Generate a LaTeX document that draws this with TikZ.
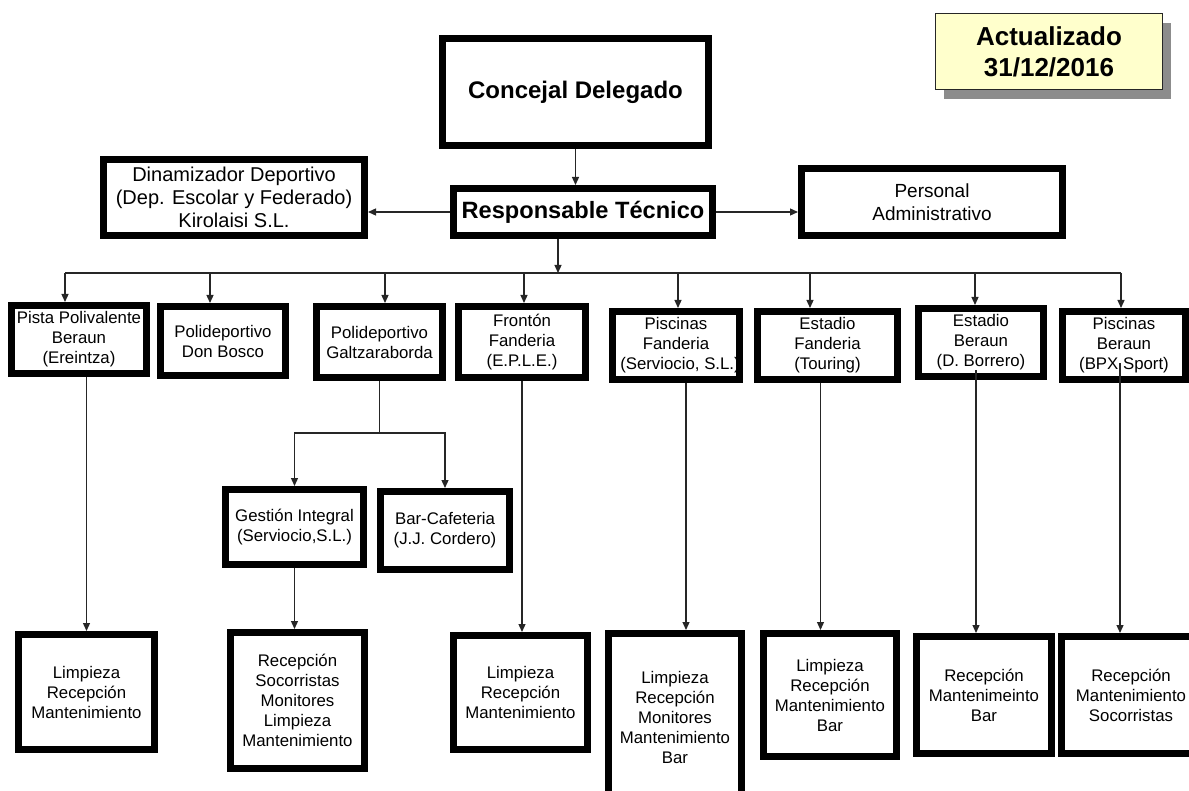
\documentclass[tikz,border=0pt]{standalone}
\usepackage{fontspec}
\setmainfont{Liberation Sans}
\usetikzlibrary{arrows.meta,shadows,calc}
\definecolor{yellowbg}{RGB}{255,255,204}
\begin{document}
\begin{tikzpicture}[x=1pt,y=-1pt,
  box/.style={draw, line width=7pt, align=center, inner sep=0pt, font=\fontsize{16.8}{20}\selectfont},
  sz/.style 2 args={minimum width=#1pt, minimum height=#2pt},
  arr/.style={draw=black!85, line width=1.3pt, -{Triangle[length=8pt,width=7pt]}},
  ln/.style={draw=black!85, line width=1.3pt},
  big/.style={font=\bfseries\fontsize{24}{28}\selectfont}]
\useasboundingbox (0,0) rectangle (1189,791);

% top
\node[box, big, sz={266}{107}] (conc) at (575.5,92) {Concejal Delegado};
\node[box, big, sz={259}{47}, font=\bfseries\fontsize{23.6}{28}\selectfont] (resp) at (583,212) {Responsable Técnico};
\node[box, sz={261}{76}, font=\fontsize{20}{23}\selectfont] (din) at (234,197.5) {Dinamizador Deportivo\\(Dep. Escolar y Federado)\\Kirolaisi S.L.};
\node[box, sz={261}{67}, font=\fontsize{19}{23}\selectfont] (pers) at (932,202) {Personal\\Administrativo};
\node[draw=black!85, line width=1.2pt, fill=yellowbg, minimum width=227pt, minimum height=76pt,
  font=\bfseries\fontsize{26}{31}\selectfont, align=center,
  drop shadow={shadow xshift=8pt, shadow yshift=-10pt, fill=black!45, opacity=1}] (upd) at (1049,51.5) {Actualizado\\31/12/2016};

% row 2
\node[box, sz={135}{68}] (pista) at (79,339.5) {Pista Polivalente\\Beraun\\(Ereintza)};
\node[box, sz={125}{69}] (dbos) at (223,341) {Polideportivo\\Don Bosco};
\node[box, sz={126}{71}] (galtz) at (379.5,342) {Polideportivo\\Galtzaraborda};
\node[box, sz={127}{71}] (fron) at (522,342) {Frontón\\Fanderia\\(E.P.L.E.)};
\node[box, sz={123}{68}] (pf) at (676,345.5) {Piscinas\\Fanderia\\\hspace*{8pt}(Serviocio, S.L.)};
\node[box, sz={140}{68}] (ef) at (827.5,345.5) {Estadio\\Fanderia\\(Touring)};
\node[box, sz={125}{68}] (eb) at (981,342.5) {Estadio\\Beraun\\(D. Borrero)};
\node[box, sz={123}{68}] (pb) at (1124,345.5) {Piscinas\\Beraun\\(BPX Sport)};

% row 3
\node[box, sz={138}{75}] (gest) at (294.5,527) {Gestión Integral\\(Serviocio,S.L.)};
\node[box, sz={129}{78}] (bar) at (445,530.5) {Bar-Cafeteria\\(J.J. Cordero)};

% row 4
\node[box, sz={136}{115}] (L1) at (86.5,692) {Limpieza\\Recepción\\Mantenimiento};
\node[box, sz={134}{136}] (L2) at (297.5,700.5) {Recepción\\Socorristas\\Monitores\\Limpieza\\Mantenimiento};
\node[box, sz={134}{114}] (L3) at (520.5,692.5) {Limpieza\\Recepción\\Mantenimiento};
\node[box, sz={133}{167}] (L4) at (675,717) {Limpieza\\Recepción\\Monitores\\Mantenimiento\\Bar};
\node[box, sz={133}{123}] (L5) at (830,695) {Limpieza\\Recepción\\Mantenimiento\\Bar};
\node[box, sz={135}{117}] (L6) at (984,695) {Recepción\\Mantenimeinto\\Bar};
\node[box, sz={139}{117}] (L7) at (1131,695) {Recepción\\Mantenimiento\\Socorristas};

% connectors top
\draw[arr] (conc.south) -- (conc.south |- resp.north);
\draw[arr] (resp.west) -- (resp.west -| din.east);
\draw[arr] (resp.east) -- (resp.east -| pers.west);

% bus
\coordinate (bR) at (558,273);
\coordinate (b1) at (65,273);
\coordinate (b2) at (210,273);
\coordinate (b3) at (385,273);
\coordinate (b4) at (524,273);
\coordinate (b5) at (678,273);
\coordinate (b6) at (810,273);
\coordinate (b7) at (975,273);
\coordinate (b8) at (1121,273);
\draw[arr] (bR |- resp.south) -- (bR);
\draw[ln] (b1) -- (b8);
\draw[arr] (b1) -- (b1 |- pista.north);
\draw[arr] (b2) -- (b2 |- dbos.north);
\draw[arr] (b3) -- (b3 |- galtz.north);
\draw[arr] (b4) -- (b4 |- fron.north);
\draw[arr] (b5) -- (b5 |- pf.north);
\draw[arr] (b6) -- (b6 |- ef.north);
\draw[arr] (b7) -- (b7 |- eb.north);
\draw[arr] (b8) -- (b8 |- pb.north);

% Galtzaraborda split
\coordinate (sp) at (380,433);
\draw[ln] (galtz.south) -- (galtz.south |- sp);
\draw[arr] (sp) -| (gest.north);
\draw[arr] (sp) -| (bar.north);

% row 2 / 3 to row 4
\draw[arr] (L1.north |- pista.south) -- (L1.north);
\draw[arr] (gest.south) -- (gest.south |- L2.north);
\draw[arr] (fron.south) -- (fron.south |- L3.north);
\draw[arr] ([xshift=10pt]pf.south) -- ([xshift=10pt]pf.south |- L4.north);
\draw[arr] ([xshift=-7pt]ef.south) -- ([xshift=-7pt]ef.south |- L5.north);
\draw[arr] ([xshift=-5pt,yshift=10pt]eb.south) -- ([xshift=-5pt]eb.south |- L6.north);
\draw[arr] ([xshift=-4pt,yshift=20pt]pb.south) -- ([xshift=-4pt]pb.south |- L7.north);
\end{tikzpicture}
\end{document}
